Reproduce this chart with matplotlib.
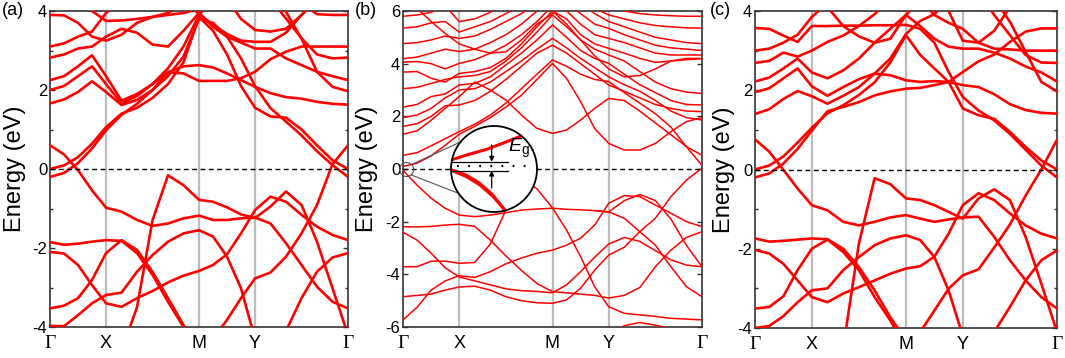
import matplotlib
matplotlib.use("Agg")
import matplotlib.pyplot as plt
from matplotlib.patches import Circle
from matplotlib.ticker import MultipleLocator

nan = float("nan")

# k-path grid (fraction of the path Gamma-X-M-Y-Gamma)
k_path = [0.0, 0.047, 0.094, 0.141, 0.188, 0.24, 0.292, 0.344, 0.396, 0.448, 0.5,
          0.547, 0.594, 0.641, 0.688, 0.74, 0.792, 0.844, 0.896, 0.948, 1.0]
k_ticks = [0.0, 0.188, 0.5, 0.688, 1.0]
k_labels = ["Γ", "X", "M", "Y", "Γ"]

# panel (a): energies (eV) read at each k_path point
bands_a_valence = [
    [0.60, 0.37, -0.03, -0.54, -0.98, -1.08, -1.29, -1.44, -1.38, -1.25, -1.18, -1.29, -1.29, -1.25, -1.23, -1.38, -1.88, -2.43, -2.98, -3.36, -3.53],
    [nan, nan, nan, nan, -5.0, -4.60, -3.50, -1.30, -0.16, -0.41, -0.78, -0.83, -0.97, -1.15, -1.24, -0.95, -0.57, -0.91, -1.84, -3.02, -4.20],
    [-2.10, -2.14, -2.43, -2.94, -3.40, -3.49, -3.27, -3.09, -2.87, -2.70, -2.58, -2.43, -2.16, -1.63, -1.04, -0.70, -0.83, -1.16, -1.46, -1.67, -1.80],
    [-3.97, -3.98, -3.70, -3.40, -3.19, -3.13, -2.60, -2.18, -1.84, -1.63, -1.55, -1.71, -2.22, -3.02, -4.30, nan, nan, nan, nan, nan, nan],
    [-1.85, -1.92, -1.89, -1.84, -1.80, -1.82, -2.13, -2.68, -3.36, -4.00, -4.60, nan, nan, nan, nan, nan, nan, nan, nan, nan, nan],
    [-3.53, -3.46, -3.27, -2.81, -2.13, -1.80, -2.05, -2.60, -3.27, -3.95, -4.60, nan, nan, nan, nan, nan, nan, nan, nan, nan, nan],
    [nan, nan, nan, nan, nan, nan, nan, nan, nan, nan, -5.0, -4.30, -3.82, -3.27, -2.77, -2.62, -2.22, -1.63, -0.91, 0.12, 0.60],
    [nan, nan, nan, nan, nan, nan, nan, nan, nan, nan, nan, nan, nan, nan, nan, -5.0, -4.10, -3.27, -2.60, -2.24, -2.13],
]
bands_a_conduction = [
    [0.00, 0.09, 0.30, 0.64, 1.06, 1.40, 1.55, 1.80, 2.15, 2.70, 3.85, 3.50, 2.90, 2.10, 1.55, 1.33, 1.30, 1.00, 0.60, 0.22, 0.00],
    [-0.20, -0.10, 0.15, 0.52, 0.98, 1.37, 1.65, 2.00, 2.45, 2.42, 2.23, 2.23, 2.23, 2.30, 2.46, 2.78, 2.97, 3.10, 3.10, 3.10, 3.10],
    [1.66, 1.76, 1.95, 2.22, 1.95, 1.62, 1.75, 2.00, 2.35, 2.85, 3.80, 3.70, 3.35, 2.80, 2.10, 1.54, 1.20, 0.85, 0.45, 0.10, -0.20],
    [2.00, 2.10, 2.35, 2.60, 2.15, 1.66, 1.85, 2.15, 2.55, 3.10, 3.90, 4.30, 4.50, 4.50, 4.50, 4.35, 3.98, 3.30, 2.46, 2.08, 1.97],
    [2.25, 2.35, 2.60, 2.88, 2.35, 1.73, 1.90, 2.15, 2.45, 2.60, 2.63, 2.57, 2.42, 2.25, 2.08, 1.92, 1.82, 1.78, 1.70, 1.65, 1.63],
    [2.82, 2.90, 3.05, 3.10, 3.35, 3.55, 3.45, 3.15, 3.10, 3.50, 3.95, 3.60, 3.35, 3.20, 3.05, 3.05, 2.80, 2.63, 2.46, 2.35, 2.25],
    [3.10, 3.18, 3.35, 3.48, 3.95, 4.30, nan, nan, nan, nan, nan, nan, nan, nan, nan, 4.30, 3.81, 3.31, 2.90, 2.80, 2.82],
    [3.90, 3.89, 3.70, 3.35, 3.25, 3.40, 3.70, 3.85, 3.95, 4.20, nan, nan, nan, nan, nan, nan, 4.50, 4.20, 3.92, 3.90, 3.90],
    [nan, nan, 4.30, 4.00, 3.75, 3.76, 3.80, 3.85, 3.90, 3.95, 4.05, 4.30, 4.30, 3.80, 3.52, 3.48, 3.55, 3.90, 4.30, nan, nan],
    [nan, nan, nan, nan, nan, nan, nan, nan, nan, 4.30, 3.92, 3.65, 3.42, 3.25, 3.22, 3.22, 3.45, 3.90, 4.30, nan, nan],
]

# panel (b)
bands_b_valence = [
    [-0.05, -0.61, -1.11, -1.49, -1.75, -1.81, -1.75, -1.66, -1.56, -1.52, -1.49, -1.53, -1.55, -1.58, -1.63, -1.20, -0.97, -1.20, -1.90, -2.90, -3.71],
    [nan, nan, nan, nan, nan, nan, nan, nan, nan, nan, nan, nan, nan, -1.58, -1.63, -1.87, -2.38, -2.89, -3.71, -4.47, -4.85],
    [-4.85, -4.80, -4.75, -4.60, -4.48, -4.45, -4.60, -4.85, -5.00, -5.08, -5.10, -4.97, -4.53, -3.84, -3.27, -2.97, -2.38, -1.87, -1.05, -0.42, 0.03],
    [-2.19, -2.20, -2.18, -2.13, -2.10, -2.18, -2.70, -3.30, -3.85, -4.35, -4.66, -4.70, -4.75, -4.80, -4.90, -4.80, -4.50, -3.71, -3.08, -2.60, -2.38],
    [-2.40, -2.70, -3.20, -3.75, -4.10, -4.25, -4.40, -4.55, -4.62, -4.65, -4.70, -4.40, -3.90, -3.35, -2.85, -2.60, -2.75, -3.10, -3.45, -3.65, -3.71],
    [-3.71, -3.71, -3.50, -3.50, -3.58, -3.55, -2.85, -1.56, -0.35, -0.75, -1.48, -2.32, -3.33, -4.47, -5.23, -5.48, -5.54, -5.60, -5.67, -5.70, -5.73],
    [-5.73, -5.25, -4.60, -4.25, -4.05, -4.12, -3.90, -3.60, -3.38, -3.20, -3.08, -2.89, -2.63, -2.13, -1.30, -1.01, -1.05, -1.37, -1.68, -2.00, -2.19],
    [nan, nan, nan, nan, nan, nan, nan, nan, nan, nan, nan, nan, nan, nan, -6.30, -5.95, -5.83, -5.93, -6.05, -6.10, -6.30],
]
bands_b_conduction = [
    [0.10, 0.22, 0.50, 0.90, 1.32, 1.62, 1.95, 2.35, 2.80, 3.40, 4.01, 3.44, 2.56, 1.54, 0.97, 0.72, 0.72, 0.97, 1.42, 1.80, 1.95],
    [0.52, 0.62, 0.88, 1.15, 1.42, 1.70, 2.05, 2.50, 3.05, 3.60, 4.14, 3.90, 3.60, 3.40, 3.32, 2.90, 2.50, 2.10, 1.59, 0.84, 0.14],
    [1.32, 1.45, 1.85, 2.30, 2.75, 3.30, 3.00, 2.62, 2.05, 1.54, 1.35, 1.48, 1.86, 2.30, 2.68, 2.60, 2.20, 1.75, 1.30, 0.85, 0.52],
    [1.62, 1.72, 2.00, 2.40, 2.43, 2.60, 2.95, 3.40, 3.90, 4.40, 4.70, 4.40, 4.00, 3.60, 3.19, 2.95, 2.70, 2.45, 2.30, 2.20, 2.18],
    [1.95, 2.05, 2.30, 2.70, 3.00, 3.05, 3.30, 3.70, 4.10, 4.55, 4.96, 4.60, 4.20, 3.85, 3.50, 3.20, 2.95, 2.60, 2.20, 1.95, 1.86],
    [2.35, 2.45, 2.75, 2.85, 3.19, 3.25, 3.50, 3.95, 4.40, 4.90, 5.47, 5.00, 4.50, 4.20, 4.01, 3.60, 3.20, 2.90, 2.60, 2.45, 2.43],
    [3.05, 3.10, 3.25, 3.40, 3.50, 3.55, 3.70, 4.10, 4.60, 5.20, 5.85, 5.40, 4.90, 4.55, 4.33, 4.10, 3.70, 3.30, 3.05, 2.92, 2.87],
    [3.68, 3.70, 3.45, 3.30, 3.63, 3.70, 3.85, 4.20, 4.75, 5.40, 6.00, 5.70, 5.10, 4.75, 4.58, 4.40, 4.20, 4.05, 4.10, 4.20, 4.20],
    [4.06, 4.08, 4.00, 3.80, 4.01, 4.15, 4.40, 4.70, 5.10, 5.60, 6.20, 6.00, 5.50, 5.10, 4.96, 4.80, 4.60, 4.40, 4.33, 4.33, 4.33],
    [4.19, 4.25, 4.40, 4.55, 4.46, 4.55, 4.80, 5.10, 5.50, 6.00, 6.50, 6.30, 5.90, 5.50, 5.34, 5.10, 4.90, 4.70, 4.60, 4.55, 4.50],
    [4.76, 4.80, 4.90, 5.05, 4.96, 5.05, 5.30, 5.60, 5.90, 6.30, nan, 6.50, 6.30, 5.90, 5.60, 5.40, 5.20, 5.00, 4.90, 4.80, 4.76],
    [5.35, 5.40, 5.55, 5.60, 5.20, 5.40, 5.60, 5.90, 6.20, 6.50, nan, nan, 6.50, 6.10, 5.85, 5.70, 5.55, 5.45, 5.40, 5.36, 5.35],
    [5.80, 5.85, 5.95, 6.20, 5.60, 5.70, 5.95, 6.30, nan, nan, nan, nan, nan, 6.50, 6.20, 6.00, 5.90, 5.85, 5.82, 5.80, 5.80],
    [6.60, 6.10, 5.60, 5.15, 4.75, 4.55, 4.40, 4.45, 4.90, 5.50, 5.90, 6.30, 6.60, nan, nan, nan, nan, nan, nan, nan, nan],
    [nan, nan, nan, nan, nan, nan, nan, nan, nan, nan, 6.00, 5.50, 4.90, 4.30, 3.80, 3.50, 3.55, 3.80, 4.10, 4.15, 4.19],
]

# panel (c)
bands_c_valence = [
    [0.76, 0.45, -0.01, -0.48, -0.90, -1.03, -1.32, -1.41, -1.32, -1.21, -1.15, -1.24, -1.32, -1.26, -1.21, -1.19, -1.70, -2.29, -2.80, -3.22, -3.51],
    [nan, nan, nan, nan, nan, -5.0, -4.50, -1.87, -0.22, -0.37, -0.73, -0.77, -0.90, -1.07, -1.24, -0.73, -0.50, -0.77, -1.70, -2.88, -4.10],
    [-2.03, -2.12, -2.38, -2.80, -3.22, -3.35, -3.13, -2.97, -2.80, -2.63, -2.50, -2.44, -2.20, -1.62, -0.90, -0.60, -0.77, -1.11, -1.41, -1.62, -1.74],
    [-4.00, -3.95, -3.70, -3.35, -3.05, -3.00, -2.54, -2.21, -1.91, -1.74, -1.66, -1.78, -2.21, -3.05, -4.20, nan, nan, nan, nan, nan, nan],
    [-1.74, -1.82, -1.80, -1.77, -1.74, -1.76, -2.00, -2.46, -3.05, -3.73, -4.30, nan, nan, nan, nan, nan, nan, nan, nan, nan, nan],
    [-3.51, -3.47, -3.20, -2.54, -2.00, -1.77, -2.08, -2.54, -3.22, -3.81, -4.50, nan, nan, nan, nan, nan, nan, nan, nan, nan, nan],
    [nan, nan, nan, nan, nan, nan, nan, nan, nan, nan, -5.0, -4.10, -3.56, -3.01, -2.67, -2.52, -1.97, -1.39, -0.66, 0.00, 0.75],
    [nan, nan, nan, nan, nan, nan, nan, nan, nan, nan, nan, nan, nan, nan, nan, -5.0, -4.10, -3.47, -2.80, -2.29, -2.04],
]
bands_c_conduction = [
    [0.00, 0.10, 0.33, 0.68, 1.05, 1.42, 1.62, 1.88, 2.20, 2.70, 3.39, 2.89, 2.55, 2.21, 1.54, 1.37, 1.28, 0.95, 0.57, 0.23, 0.00],
    [-0.20, -0.10, 0.15, 0.52, 0.98, 1.47, 1.58, 1.70, 1.87, 1.97, 2.04, 2.06, 2.13, 2.21, 2.46, 2.73, 2.90, 3.22, 3.48, 3.56, 3.56],
    [1.40, 1.52, 1.78, 1.98, 1.85, 1.66, 1.86, 2.08, 2.42, 2.80, 3.42, 3.75, 3.92, 4.30, nan, nan, 4.30, 3.73, 2.97, 2.21, 1.97],
    [1.95, 2.05, 2.30, 2.55, 2.10, 1.86, 2.08, 2.28, 2.42, 2.38, 2.25, 2.21, 2.23, 2.21, 2.13, 2.08, 1.90, 1.65, 1.50, 1.43, 1.41],
    [2.22, 2.32, 2.55, 2.80, 2.45, 2.30, 2.50, 2.80, 3.20, 3.55, 3.90, 3.62, 3.30, 3.10, 3.05, 3.05, 2.95, 2.80, 2.60, 2.45, 2.22],
    [2.69, 2.74, 2.95, 2.85, 3.00, 3.22, 3.38, 3.62, 3.92, 4.30, nan, nan, nan, nan, nan, 4.50, 3.90, 3.39, 2.89, 2.70, 2.69],
    [3.00, 3.05, 3.20, 3.40, 3.85, 4.20, nan, nan, nan, nan, nan, 4.30, 3.90, 3.70, 3.55, 3.20, 3.05, 3.03, 3.00, 3.00, 3.00],
    [3.57, 3.55, 3.38, 3.22, 3.62, 3.62, 3.63, 3.63, 3.64, 3.64, 3.65, 3.55, 3.20, 2.46, 1.83, 1.49, 1.24, 0.90, 0.50, 0.10, -0.20],
    [nan, nan, nan, nan, 4.50, 4.10, 3.62, 3.36, 3.20, 3.30, 3.90, 4.30, nan, 4.00, 3.25, 3.20, 3.50, 4.10, nan, nan, nan],
]

# inset of panel (b): curves in unit coordinates of the magnifier circle
inset_cb_x = [0.0, 0.183, 0.415, 0.648, 0.841, 0.977]
inset_cb_y = [0.605, 0.663, 0.729, 0.817, 0.895, 0.953]
inset_vb_x = [0.0, 0.183, 0.337, 0.492, 0.608, 0.686]
inset_vb_y = [0.488, 0.41, 0.314, 0.178, 0.043, -0.047]
inset_vb2_x = [0.0, 0.18, 0.33, 0.48, 0.58, 0.66]
inset_vb2_y = [0.50, 0.435, 0.345, 0.215, 0.09, -0.01]

RED = "#ff0000"
GREY = "#bdbdbd"

plt.rcParams["font.family"] = ["Liberation Sans", "DejaVu Sans"]
plt.rcParams["mathtext.fontset"] = "custom"
plt.rcParams["mathtext.rm"] = "Liberation Sans"
plt.rcParams["mathtext.it"] = "Liberation Sans:italic"

W, H = 1065, 358
fig = plt.figure(figsize=(W / 100, H / 100), dpi=100)


def px_axes(x0, x1, y0, y1):
    return fig.add_axes([x0 / W, 1 - y1 / H, (x1 - x0) / W, (y1 - y0) / H])


def draw_panel(ax, bands, ylim, major, minor, lw, label_x):
    for kx in k_ticks[1:-1]:
        ax.axvline(kx, color=GREY, lw=1.6, zorder=1)
    for e in bands:
        ax.plot(k_path, e, color=RED, lw=lw, solid_capstyle="round",
                solid_joinstyle="round", zorder=3)
    ax.axhline(0, color="black", lw=1.0, ls=(0, (3.5, 2.5)), zorder=4)
    ax.set_xlim(0, 1)
    ax.set_ylim(*ylim)
    ax.yaxis.set_major_locator(MultipleLocator(major))
    if minor:
        ax.yaxis.set_minor_locator(MultipleLocator(minor))
    ax.tick_params(axis="y", which="both", direction="in", left=True, right=True,
                   labelsize=12, width=1.0, color="#333333", pad=2)
    ax.tick_params(axis="y", which="major", length=3.5)
    ax.tick_params(axis="y", which="minor", length=2.0)
    ax.set_yticklabels([f"{int(v)}" for v in ax.get_yticks()])
    ax.set_xticks(k_ticks)
    ax.set_xticklabels(k_labels, fontsize=13)
    ax.tick_params(axis="x", length=0, pad=6)
    for t in ax.get_xticklabels():
        if t.get_text() == "Γ":
            t.set_fontfamily(["Liberation Serif", "DejaVu Serif"])
            t.set_fontsize(14)
    for s in ax.spines.values():
        s.set_color("#333333")
        s.set_linewidth(1.2)
    ax.set_ylabel("Energy (eV)", fontsize=17, labelpad=0)
    ax.yaxis.set_label_coords(label_x, 0.5)


ax_a = px_axes(50, 348, 11, 327)
draw_panel(ax_a, bands_a_valence + bands_a_conduction, (-4, 4), 2, 1, 1.9, -0.08)
ax_b = px_axes(403, 702, 11, 327)
draw_panel(ax_b, bands_b_valence + bands_b_conduction, (-6, 6), 2, None, 1.1, -0.084)
ax_c = px_axes(755, 1057, 11, 328)
draw_panel(ax_c, bands_c_valence + bands_c_conduction, (-4, 4), 2, 1, 1.9, -0.066)

for x, lab in [(2, "(a)"), (355, "(b)"), (710, "(c)")]:
    fig.text(x / W, 1 - 2 / H, lab, fontsize=13, ha="left", va="top")

# overlay in figure pixels for the magnifier of panel (b)
ov = fig.add_axes([0, 0, 1, 1], zorder=10)
ov.set_xlim(0, W)
ov.set_ylim(H, 0)
ov.axis("off")
ov.patch.set_visible(False)

cx, cy, r = 494, 169, 43
sx, sy, sr = 406.7, 169.5, 7

small = Circle((sx, sy), sr, fill=False, ec="#555555", lw=0.8)
ov.add_patch(small)
ov.plot([411.6, 460.6], [164.5, 141.9], color="#555555", lw=0.8)
ov.plot([411.2, 503.7], [174.9, 210.9], color="#555555", lw=0.8)

bg = Circle((cx, cy), r, fc="white", ec="none", zorder=2)
ov.add_patch(bg)
clip = Circle((cx, cy), r, transform=ov.transData)


def to_px(fx, fy):
    return [cx - r + v * 2 * r for v in fx], [cy + r - v * 2 * r for v in fy]


for fx, fy, lw in [(inset_cb_x, inset_cb_y, 2.2), (inset_vb_x, inset_vb_y, 2.2),
                   (inset_vb2_x, inset_vb2_y, 1.3)]:
    xs, ys = to_px(fx, fy)
    ln, = ov.plot(xs, ys, color=RED, lw=lw, zorder=3, solid_capstyle="butt")
    ln.set_clip_path(clip)

for fy in (0.585, 0.48):
    xs, ys = to_px([0.0, 0.667], [fy, fy])
    ln, = ov.plot(xs, ys, color="black", lw=0.9, zorder=4)
    ln.set_clip_path(clip)
xs, ys = to_px([0.07, 0.93], [0.538, 0.538])
ln, = ov.plot(xs, ys, color="black", lw=1.6, ls=(0, (0.8, 4.2)), zorder=4)
ln.set_clip_path(clip)

ax_x, _ = to_px([0.473], [0])
_, y_top = to_px([0], [0.779])
_, y_up = to_px([0], [0.585])
_, y_bot = to_px([0], [0.279])
_, y_dn = to_px([0], [0.48])
arrow = dict(arrowstyle="-|>", color="black", lw=0.9, mutation_scale=7, shrinkA=0, shrinkB=0)
ov.annotate("", xy=(ax_x[0], y_up[0]), xytext=(ax_x[0], y_top[0]), arrowprops=arrow, zorder=5)
ov.annotate("", xy=(ax_x[0], y_dn[0]), xytext=(ax_x[0], y_bot[0]), arrowprops=arrow, zorder=5)

tx, ty = to_px([0.66], [0.6])
ov.text(tx[0], ty[0], r"$E_{\mathrm{g}}$.", fontsize=14, ha="left", va="bottom", zorder=6)

ring = Circle((cx, cy), r, fill=False, ec="black", lw=1.3, zorder=7)
ov.add_patch(ring)

fig.savefig("out.png", dpi=100)
